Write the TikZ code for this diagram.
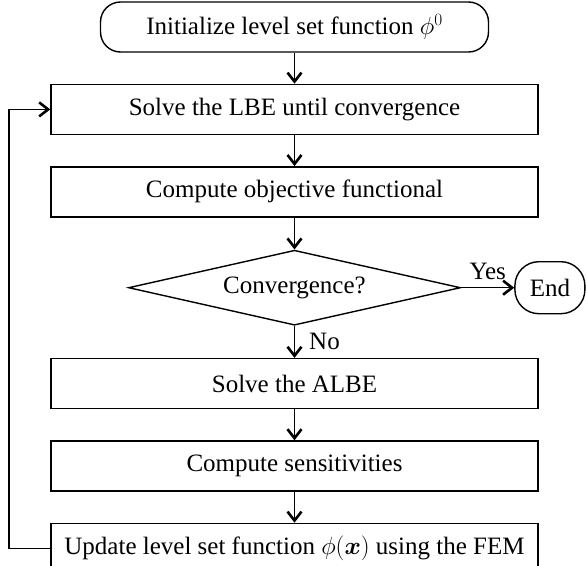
\documentclass[tikz,border=0pt]{standalone}
\usepackage{fontspec}
\setmainfont{Liberation Serif}
\usepackage{amsmath}
\usetikzlibrary{arrows.meta,positioning,shapes.geometric}

\begin{document}
\begin{tikzpicture}[
  x=1pt, y=1pt,
  font=\fontsize{25pt}{30pt}\selectfont,
  node distance=31pt,
  every node/.style={align=center},
  box/.style={draw,line width=1.4pt,minimum width=487pt,minimum height=50pt,inner sep=0pt},
  term/.style={draw,line width=1.4pt,rounded corners=20pt,minimum height=50pt,inner sep=0pt},
  decision/.style={draw,line width=1.4pt,diamond,aspect=4.43,minimum width=332pt,minimum height=75pt,inner sep=0pt},
  flow/.style={-{Straight Barb[length=9pt,width=14pt,line width=2.6pt]},line width=1.4pt}]

  \useasboundingbox (0,0) rectangle (586,-565);

  % main column
  \node[term,minimum width=388pt] (init) at (294.5,-27) {Initialize level set function $\phi^{0}$};
  \node[box,below=of init] (lbe) {Solve the LBE until convergence};
  \node[box,below=of lbe] (obj) {Compute objective functional};
  \node[decision,below=32pt of obj] (conv) {Convergence?};
  \node[box,below=32pt of conv] (albe) {Solve the ALBE};
  \node[box,below=of albe] (sens) {Compute sensitivities};
  \node[box,below=of sens] (upd) {Update level set function $\phi(\boldsymbol{x})$ using the FEM};

  % exit
  \node[term,minimum width=70pt,minimum height=52pt,rounded corners=24pt,right=53pt of conv] (end) {End};

  % arrows
  \draw[flow] (init) -- (lbe);
  \draw[flow] (lbe) -- (obj);
  \draw[flow] (obj) -- (conv);
  \draw[flow] (conv.east) -- node[above=7pt,inner sep=0pt] {Yes} (conv.east -| end.west);
  \draw[flow] (conv) -- node[right=14pt,inner sep=0pt] {No} (albe);
  \draw[flow] (albe) -- (sens);
  \draw[flow] (sens) -- (upd);

  % loop back
  \draw[flow] (upd.west) -- ++(-41.5,0) |- (lbe.west);

\end{tikzpicture}
\end{document}
